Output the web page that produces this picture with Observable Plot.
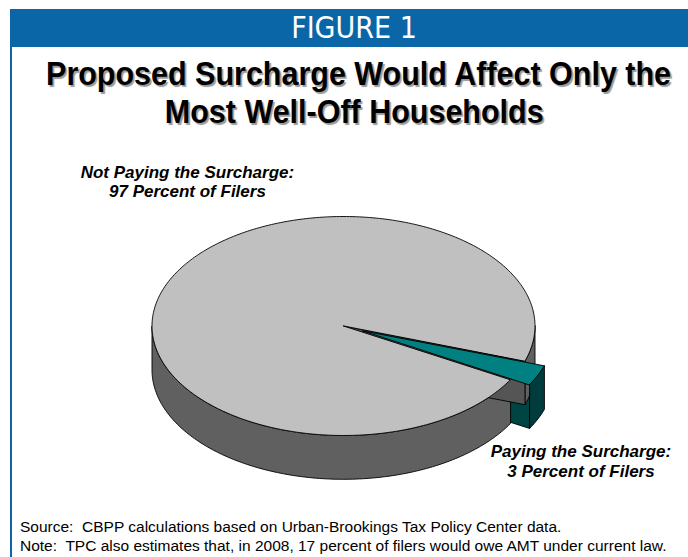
<!DOCTYPE html>
<html><head><meta charset="utf-8">
<script src="https://cdn.jsdelivr.net/npm/d3@7"></script>
<script src="https://cdn.jsdelivr.net/npm/@observablehq/plot@0.6"></script>
<style>
body{margin:0;background:#fff;}
#wrap{position:relative;width:688px;height:557px;overflow:hidden;background:#fff;font-family:"Liberation Sans",Arial,sans-serif;}
#lb{position:absolute;left:10px;top:9px;width:2px;height:560px;background:#0b66a8;}
#band{position:absolute;left:10px;top:9px;width:700px;height:38px;background:#0b66a8;}
#fig{position:absolute;left:10px;width:688px;top:9px;height:38px;line-height:38px;text-align:center;color:#fff;font-family:"Liberation Sans Narrow","DejaVu Sans Condensed",sans-serif;font-size:30px;}
.tl{position:absolute;left:10px;width:688px;text-align:center;font-family:"Liberation Sans",Arial,sans-serif;font-weight:bold;font-size:34px;line-height:38px;white-space:nowrap;}
.tl span{display:inline-block;transform-origin:50% 50%;text-shadow:2px 2px 1px #9a9a9a;}
#plot{position:absolute;left:0;top:0;}
#notes{position:absolute;left:20px;top:517px;font-size:15.5px;line-height:19px;white-space:pre;color:#000;}
</style></head>
<body>
<div id="wrap">
  <div id="band"></div><div id="lb"></div>
  <div id="fig"></div>
  <div class="tl" id="t0" style="top:54px"><span></span></div>
  <div class="tl" id="t1" style="top:92px"><span></span></div>
  <div id="plot"></div>
  <div id="notes"></div>
</div>
<script>
const figureLabel = "FIGURE 1";
const titleLines = ["Proposed Surcharge Would Affect Only the", "Most Well-Off Households"];
const categories = ["Paying the Surcharge", "Not Paying the Surcharge"];
const shares = [3, 97];
const labelLines = [["Paying the Surcharge:", "3 Percent of Filers"], ["Not Paying the Surcharge:", "97 Percent of Filers"]];
const noteLines = [
  "Source:  CBPP calculations based on Urban-Brookings Tax Policy Center data.",
  "Note:  TPC also estimates that, in 2008, 17 percent of filers would owe AMT under current law."
];

document.getElementById("fig").textContent = figureLabel;
const spans = [document.querySelector("#t0 span"), document.querySelector("#t1 span")];
spans.forEach((s, i) => s.textContent = titleLines[i]);
const TITLE_W = 625;
const sx = TITLE_W / spans[0].getBoundingClientRect().width;
spans.forEach(s => s.style.transform = `scaleX(${sx})`);
document.getElementById("notes").textContent = noteLines.join("\n");

// geometry (layout)
const deg = Math.PI / 180;
const START = 108.6 * deg;
const DEPTH = 0.40, EXPLODE = [0.11, 0];
const cx = 343, cy = 325.5, rx = 191.5, ry = 109.5;
const topCol = ["#008080", "#c0c0c0"];
const sideCol = ["#003c3c", "#606060"];
const cutCol = ["#004444", "#555555"];
const labelPos = [[1.24, 1.233], [-0.815, -1.324]];

const arcs = d3.pie().sort(null).startAngle(START).endAngle(START + 2 * Math.PI)(shares);

function pt(t, r, z, o) { return {x: o[0] + r * Math.cos(t), y: o[1] + r * Math.sin(t) + z}; }
function arcPts(t0, t1, r, z, o) {
  const n = Math.max(2, Math.ceil(Math.abs(t1 - t0) / deg));
  return d3.range(n + 1).map(i => pt(t0 + (t1 - t0) * i / n, r, z, o));
}

const faces = arcs.map((a, i) => {
  const t0 = a.startAngle - Math.PI / 2, t1 = a.endAngle - Math.PI / 2, mid = (t0 + t1) / 2;
  const e = EXPLODE[i];
  const o = [e * Math.cos(mid), e * Math.sin(mid)];
  const sides = [];
  for (const k of [0, 2 * Math.PI]) {
    const lo = Math.max(t0, k), hi = Math.min(t1, k + Math.PI);
    if (lo < hi) sides.push(arcPts(lo, hi, 1, 0, o).concat(arcPts(hi, lo, 1, DEPTH, o)));
  }
  const cuts = [];
  const cutFace = t => [pt(0, 0, 0, o), pt(t, 1, 0, o), pt(t, 1, DEPTH, o), pt(0, 0, DEPTH, o)];
  if (Math.cos(t1) > 0) cuts.push(cutFace(t1));
  if (Math.cos(t0) < 0) cuts.push(cutFace(t0));
  const top = [pt(0, 0, 0, o)].concat(arcPts(t0, t1, 1, 0, o));
  return {i, sides, cuts, top, mid};
});

const poly = (pts, fill) => Plot.line(pts, {x: "x", y: "y", fill, stroke: "#000", strokeWidth: 0.9, curve: "linear-closed", strokeLinejoin: "round"});

const marks = [];
const teal = faces[0], gray = faces[1];
// painter's order: hidden-behind faces first
teal.cuts.forEach(c => marks.push(poly(c, cutCol[0])));
gray.sides.forEach(s => marks.push(poly(s, sideCol[1])));
gray.cuts.forEach(c => marks.push(poly(c, cutCol[1])));
marks.push(poly(gray.top, topCol[1]));
teal.sides.forEach(s => marks.push(poly(s, sideCol[0])));
marks.push(poly(teal.top, topCol[0]));

const labels = categories.map((c, i) => ({category: c, text: labelLines[i].join("\n"), x: labelPos[i][0], y: labelPos[i][1]}));
marks.push(Plot.text(labels, {x: "x", y: "y", text: "text", fontSize: 17, fontWeight: "bold", fontStyle: "italic", lineHeight: 1.15, fill: "#000", fontFamily: "Liberation Sans, Arial, sans-serif"}));

const chart = Plot.plot({
  width: 688, height: 557, margin: 0,
  style: {background: "transparent", overflow: "visible"},
  x: {domain: [-1, 1], range: [cx - rx, cx + rx], axis: null},
  y: {domain: [-1, 1], range: [cy - ry, cy + ry], axis: null},
  marks
});
document.getElementById("plot").appendChild(chart);
</script>
</body></html>
